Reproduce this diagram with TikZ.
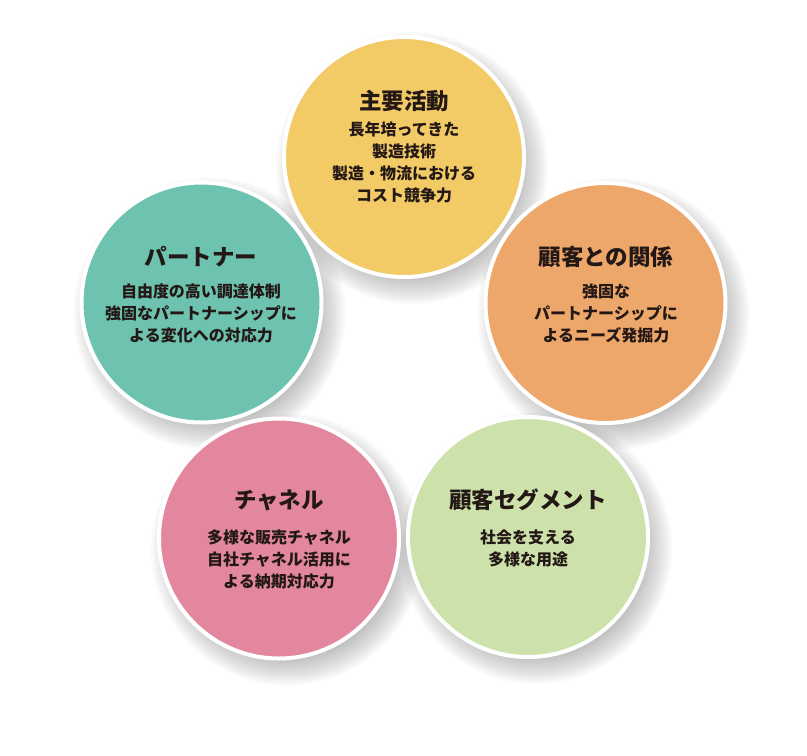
\documentclass[tikz,border=0pt]{standalone}
\usepackage{fontspec}
\setmainfont{Noto Sans CJK JP}
\definecolor{cyellow}{HTML}{F2CB67}
\definecolor{corange}{HTML}{EDA76B}
\definecolor{cteal}{HTML}{6DC3B0}
\definecolor{cpink}{HTML}{E2879E}
\definecolor{cgreen}{HTML}{CDE2AB}
\definecolor{ctext}{HTML}{231815}
\tikzset{
  bubble/.style={circle, draw=white, line width=4pt, minimum size=240pt, inner sep=0pt},
  ttl/.style={text=ctext, font=\fontsize{22.5pt}{26pt}\selectfont\bfseries, inner sep=0pt},
  body/.style={text=ctext, font=\fontsize{16pt}{22pt}\selectfont\bfseries, align=center, inner sep=0pt, anchor=north},
  shadowlayer/.style={fill=black, opacity=0.02},
}
\begin{document}
\begin{tikzpicture}[x=1pt,y=-1pt]
\useasboundingbox (0,0) rectangle (807,756);
\coordinate (pA) at (404,157);
\coordinate (pP) at (201.5,302.5);
\coordinate (pR) at (605.5,303);
\coordinate (pC) at (279,538.5);
\coordinate (pS) at (528,537);
% soft shadows
\foreach \c in {pA,pP,pR,pC,pS}{
  \foreach \i in {0,...,13}{
    \fill[shadowlayer] ([shift={(8,11)}]\c) circle ({136-2*\i});
  }
}
% circles
\node[bubble, fill=cyellow] (act) at (pA) {};
\node[bubble, fill=cteal] (part) at (pP) {};
\node[bubble, fill=corange] (rel) at (pR) {};
\node[bubble, fill=cpink] (chan) at (pC) {};
\node[bubble, fill=cgreen] (seg) at (pS) {};
% texts
\node[ttl] (actT) at (404,101) {主要活動};
\node[body] (actB) at (404,122) {長年培ってきた\\製造技術\\製造・物流における\\コスト競争力};
\node[ttl] (partT) at (201,257) {パートナー};
\node[body] (partB) at (201,284) {自由度の高い調達体制\\強固なパートナーシップに\\よる変化への対応力};
\node[ttl] (relT) at (606,257) {顧客との関係};
\node[body] (relB) at (606,284) {強固な\\パートナーシップに\\よるニーズ発掘力};
\node[ttl] (chanT) at (279,500) {チャネル};
\node[body] (chanB) at (279,530) {多様な販売チャネル\\自社チャネル活用に\\よる納期対応力};
\node[ttl] (segT) at (528,500) {顧客セグメント};
\node[body] (segB) at (528,530) {社会を支える\\多様な用途};
\end{tikzpicture}
\end{document}
